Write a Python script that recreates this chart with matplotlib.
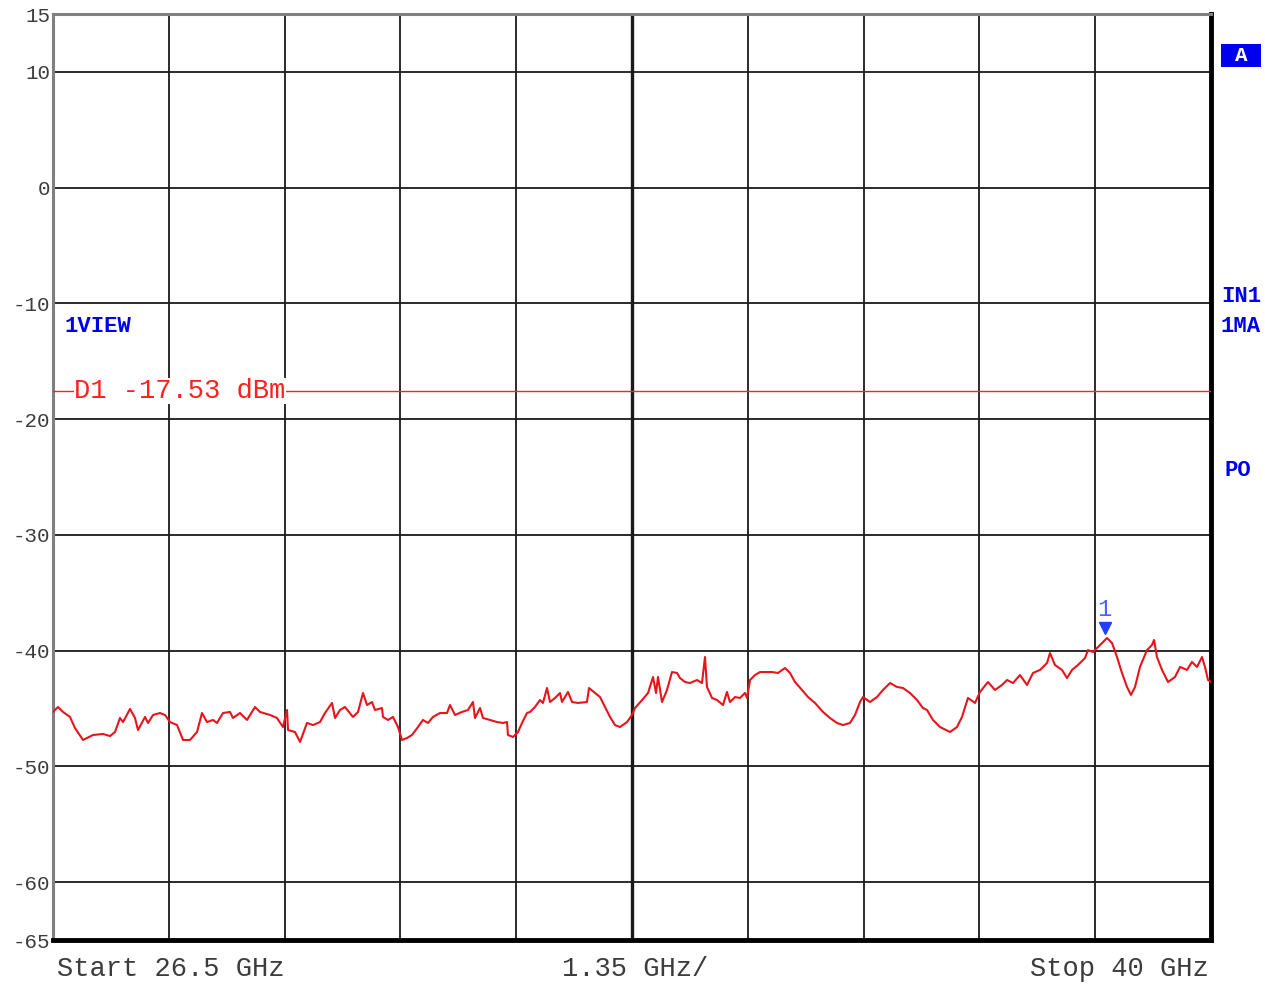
import matplotlib
matplotlib.use('Agg')
import matplotlib.pyplot as plt
from matplotlib.patches import Rectangle

# sweep settings (GHz) and display line
start_ghz = 26.5
stop_ghz = 40.0
span_per_div = 1.35
d1_level = -17.53
y_ticks = [15, 10, 0, -10, -20, -30, -40, -50, -60, -65]

# trace (GHz, dBm)
freq = [26.500, 26.558, 26.617, 26.698, 26.756, 26.850, 26.966, 27.083, 27.165, 27.223,
        27.281, 27.316, 27.398, 27.456, 27.491, 27.573, 27.608, 27.666, 27.747, 27.806,
        27.864, 27.946, 28.016, 28.097, 28.179, 28.237, 28.295, 28.365, 28.412, 28.482,
        28.563, 28.598, 28.680, 28.762, 28.855, 28.913, 29.030, 29.111, 29.181, 29.228,
        29.240, 29.321, 29.380, 29.461, 29.531, 29.613, 29.671, 29.753, 29.788, 29.846,
        29.904, 29.997, 30.056, 30.114, 30.161, 30.219, 30.254, 30.335, 30.347, 30.405,
        30.464, 30.522, 30.569, 30.627, 30.685, 30.755, 30.813, 30.872, 30.930, 31.012,
        31.093, 31.128, 31.187, 31.268, 31.338, 31.396, 31.420, 31.478, 31.513, 31.595,
        31.676, 31.746, 31.793, 31.804, 31.863, 31.921, 31.968, 32.026, 32.061, 32.119,
        32.177, 32.212, 32.259, 32.294, 32.352, 32.411, 32.434, 32.504, 32.551, 32.620,
        32.725, 32.749, 32.819, 32.877, 32.935, 32.994, 33.052, 33.110, 33.192, 33.250,
        33.285, 33.367, 33.437, 33.495, 33.530, 33.553, 33.600, 33.658, 33.716, 33.775,
        33.810, 33.868, 33.926, 34.008, 34.066, 34.101, 34.124, 34.183, 34.241, 34.311,
        34.357, 34.392, 34.451, 34.509, 34.567, 34.591, 34.626, 34.684, 34.742, 34.800,
        34.882, 34.952, 35.034, 35.092, 35.150, 35.232, 35.302, 35.383, 35.477, 35.558,
        35.640, 35.710, 35.791, 35.850, 35.908, 35.943, 36.025, 36.106, 36.176, 36.258,
        36.339, 36.409, 36.491, 36.573, 36.642, 36.689, 36.759, 36.841, 36.957, 37.039,
        37.097, 37.167, 37.249, 37.307, 37.400, 37.482, 37.563, 37.622, 37.692, 37.773,
        37.855, 37.925, 38.006, 38.088, 38.123, 38.181, 38.263, 38.321, 38.380, 38.449,
        38.531, 38.566, 38.624, 38.683, 38.741, 38.788, 38.846, 38.904, 38.962, 39.021,
        39.067, 39.114, 39.172, 39.254, 39.312, 39.336, 39.370, 39.429, 39.499, 39.580,
        39.639, 39.720, 39.778, 39.837, 39.895, 39.930, 39.965, 40.000]
level = [-45.30, -44.87, -45.30, -45.73, -46.68, -47.72, -47.29, -47.20, -47.38, -47.03,
         -45.82, -46.17, -45.04, -45.82, -46.86, -45.73, -46.25, -45.56, -45.39, -45.56,
         -46.17, -46.43, -47.72, -47.72, -47.03, -45.39, -46.17, -45.99, -46.25, -45.39,
         -45.30, -45.82, -45.39, -45.99, -44.87, -45.30, -45.56, -45.82, -46.60, -45.13,
         -46.86, -47.03, -47.89, -46.25, -46.43, -46.17, -45.39, -44.52, -45.82, -45.13,
         -44.87, -45.73, -45.30, -43.66, -44.70, -44.44, -45.13, -44.96, -45.73, -45.99,
         -45.73, -46.60, -47.72, -47.55, -47.29, -46.60, -45.99, -46.25, -45.73, -45.39,
         -45.39, -44.70, -45.56, -45.30, -45.13, -44.44, -45.82, -44.96, -45.82, -45.99,
         -46.17, -46.25, -46.17, -47.29, -47.46, -47.03, -46.25, -45.39, -45.30, -44.87,
         -44.27, -44.52, -43.23, -44.44, -44.09, -43.66, -44.44, -43.57, -44.44, -44.52,
         -44.44, -43.23, -43.66, -44.01, -44.87, -45.73, -46.43, -46.60, -46.17, -45.56,
         -44.96, -44.27, -43.66, -42.28, -43.66, -42.28, -44.44, -43.40, -41.85, -41.93,
         -42.37, -42.71, -42.80, -42.54, -42.80, -40.55, -43.14, -44.09, -44.27, -44.70,
         -43.57, -44.44, -44.01, -44.09, -43.66, -44.09, -42.54, -42.11, -41.85, -41.85,
         -41.85, -41.93, -41.50, -41.93, -42.71, -43.40, -44.01, -44.52, -45.30, -45.82,
         -46.25, -46.43, -46.25, -45.56, -44.44, -44.01, -44.44, -44.01, -43.40, -42.80,
         -43.14, -43.23, -43.66, -44.27, -44.96, -45.13, -45.99, -46.60, -47.03, -46.60,
         -45.73, -44.09, -44.52, -43.57, -42.71, -43.40, -42.97, -42.54, -42.80, -42.11,
         -42.97, -41.93, -41.67, -41.07, -40.21, -41.24, -41.67, -42.37, -41.67, -41.24,
         -40.64, -39.95, -40.12, -39.69, -39.26, -38.91, -39.34, -40.55, -41.93, -43.14,
         -43.83, -43.14, -41.41, -39.95, -39.51, -39.08, -40.55, -41.67, -42.71, -42.28,
         -41.41, -41.67, -40.98, -41.41, -40.55, -41.41, -42.54, -42.71]

marker_freq = 38.76
marker_level = -38.91

mono = 'Liberation Mono'
blue = '#0000ee'
grey_txt = '#3c3c3c'

fig = plt.figure(figsize=(12.65, 9.84), dpi=100)
ax = fig.add_axes([53 / 1265, 1 - 940 / 984, 1158 / 1265, 926 / 984])

xgrid = [start_ghz + i * span_per_div for i in range(11)]
ax.set_xlim(start_ghz, stop_ghz)
ax.set_ylim(-65, 15)
ax.set_xticks(xgrid)
ax.set_xticklabels([])
ax.set_yticks(y_ticks)
ax.set_yticklabels([str(t) for t in y_ticks], family=mono, fontsize=15, color=grey_txt)
ax.tick_params(length=0, pad=2)
ax.grid(True, color='#1a1a1a', linewidth=1.3)
ax.axvline(xgrid[5], color='#1a1a1a', linewidth=2.4)

for side in ['left', 'top']:
    ax.spines[side].set_color('#808080')
    ax.spines[side].set_linewidth(2.2)
for side in ['right', 'bottom']:
    ax.spines[side].set_color('black')
    ax.spines[side].set_linewidth(3.5)

# display line D1
ax.axhline(d1_level, color='#ff2020', linewidth=1.0, zorder=3)
ax.text(start_ghz + 0.25, d1_level, 'D1 -17.53 dBm', family=mono, fontsize=19.5,
        color='#ff2020', va='center', ha='left', zorder=4,
        bbox=dict(facecolor='white', edgecolor='none', pad=0))

# trace
ax.plot(freq, level, color='#e8141c', linewidth=1.5, zorder=5)

# marker 1
ax.plot([marker_freq], [marker_level + 0.9], marker='v', markersize=9, color='#2040ff',
        linestyle='none', zorder=6)
ax.text(marker_freq, marker_level + 1.45, '1', family=mono, fontsize=17, color='#4a64ff',
        ha='center', va='bottom', zorder=6)

ax.text(12 / 1158, (940 - 326) / 926, '1VIEW', transform=ax.transAxes, family=mono,
        fontsize=16, fontweight='bold', color=blue, va='center', ha='left')

# right-hand annotations
fig.patches.append(Rectangle((1221 / 1265, 1 - 67 / 984), 40 / 1265, 23 / 984,
                             transform=fig.transFigure, facecolor=blue, edgecolor='none'))
fig.text(1241 / 1265, 1 - 55.5 / 984, 'A', family=mono, fontsize=15, fontweight='bold',
         color='white', ha='center', va='center')
fig.text(1221 / 1265, 1 - 296 / 984, 'IN1', family=mono, fontsize=16, fontweight='bold',
         color=blue, ha='left', va='center')
fig.text(1221 / 1265, 1 - 326 / 984, '1MA', family=mono, fontsize=16, fontweight='bold',
         color=blue, ha='left', va='center')
fig.text(1224 / 1265, 1 - 471 / 984, 'PO', family=mono, fontsize=16, fontweight='bold',
         color=blue, ha='left', va='center')

# bottom annotations
fig.text(57 / 1265, 1 - 969 / 984, 'Start 26.5 GHz', family=mono, fontsize=19.5,
         color=grey_txt, ha='left', va='center')
fig.text(635 / 1265, 1 - 969 / 984, '1.35 GHz/', family=mono, fontsize=19.5,
         color=grey_txt, ha='center', va='center')
fig.text(1209 / 1265, 1 - 969 / 984, 'Stop 40 GHz', family=mono, fontsize=19.5,
         color=grey_txt, ha='right', va='center')

fig.savefig('out.png', dpi=100, facecolor='white')
